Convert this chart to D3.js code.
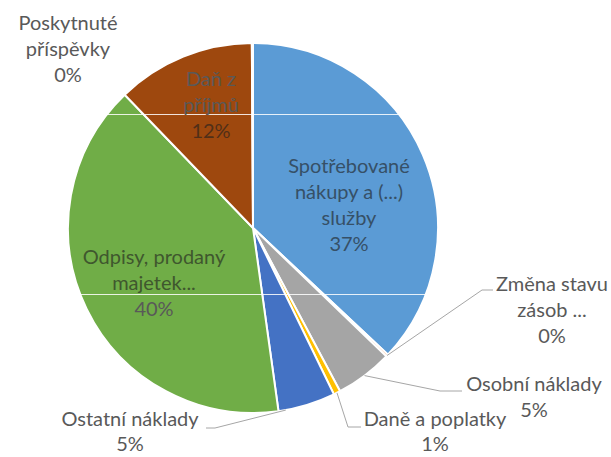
<!DOCTYPE html>
<html>
<head>
<meta charset="utf-8">
<script src="https://cdn.jsdelivr.net/npm/d3@7"></script>
<style>
  body { margin: 0; background: #fff; }
  text { font-family: Lato, "Open Sans", sans-serif; font-size: 20px; }
</style>
</head>
<body>
<div id="chart"></div>
<script>
// data (clockwise from 12 o'clock)
const categories = ['Spotřebované nákupy a (...) služby', 'Změna stavu zásob ...', 'Osobní náklady',
  'Daně a poplatky', 'Ostatní náklady', 'Odpisy, prodaný majetek...', 'Daň z příjmů', 'Poskytnuté příspěvky'];
const values = [37.0, 0.2, 5.0, 0.6, 5.0, 40.0, 12.1, 0.1];
const percentLabels = ['37%', '0%', '5%', '1%', '5%', '40%', '12%', '0%'];
const labelLines = [
  ['Spotřebované', 'nákupy a (...)', 'služby'],
  ['Změna stavu', 'zásob ...'],
  ['Osobní náklady'],
  ['Daně a poplatky'],
  ['Ostatní náklady'],
  ['Odpisy, prodaný', 'majetek...'],
  ['Daň z', 'příjmů'],
  ['Poskytnuté', 'příspěvky']
];
const colors = ['#5B9BD5', '#ED7D31', '#A5A5A5', '#FFC000', '#4472C4', '#70AD47', '#9E480E', '#636363'];

const w = 611, h = 457;
const cx = 253, cy = 228, r = 185;

// label layout: x centre, first baseline, line step, leader elbow/end for outside labels
const layout = [
  { x: 349, y: 173, inside: true },
  { x: 552, y: 291, leader: [[482, 290], [493, 290]] },
  { x: 534, y: 391, leader: [[440, 391], [462, 391]] },
  { x: 435, y: 426, step: 25, leader: [[348, 427], [361, 427]] },
  { x: 130, y: 426, step: 25, leader: [[215, 428], [206, 428]] },
  { x: 154, y: 264, inside: true },
  { x: 211, y: 86, inside: true },
  { x: 68, y: 30 }
];
const lineH = 26;

const svg = d3.select('#chart').append('svg')
  .attr('width', w)
  .attr('height', h);

const pie = d3.pie().sort(null).value(d => d);
const arcs = pie(values);
const arc = d3.arc().innerRadius(0).outerRadius(r);

const g = svg.append('g').attr('transform', `translate(${cx},${cy})`);

g.selectAll('path')
  .data(arcs)
  .enter()
  .append('path')
  .attr('d', arc)
  .attr('fill', (d, i) => colors[i])
  .attr('stroke', '#fff')
  .attr('stroke-width', 2);

// faint horizontal streaks seen in the source picture
[114, 294].forEach(y => {
  svg.append('line')
    .attr('x1', 0).attr('x2', w)
    .attr('y1', y + 0.5).attr('y2', y + 0.5)
    .attr('stroke', '#fff')
    .attr('stroke-opacity', 0.85);
});

// leader lines
arcs.forEach((a, i) => {
  const l = layout[i];
  if (!l.leader) return;
  let ang;
  if (i === 4) ang = a.endAngle - 0.04;
  else ang = (a.startAngle + a.endAngle) / 2;
  const start = [cx + r * Math.sin(ang), cy - r * Math.cos(ang)];
  const pts = [start].concat(l.leader);
  svg.append('path')
    .attr('d', d3.line()(pts))
    .attr('fill', 'none')
    .attr('stroke', '#A6A6A6')
    .attr('stroke-width', 1);
});

// labels
arcs.forEach((a, i) => {
  const l = layout[i];
  const lines = labelLines[i].concat([percentLabels[i]]);
  lines.forEach((t, j) => {
    const y = l.y + j * (l.step || lineH);
    let fill = '#595959';
    if (l.inside && y > 114 && y < 294) {
      fill = d3.interpolateRgb(colors[i], '#1e1e1e')(0.6);
    }
    svg.append('text')
      .attr('x', l.x)
      .attr('y', y)
      .attr('text-anchor', 'middle')
      .attr('fill', fill)
      .text(t);
  });
});
</script>
</body>
</html>
